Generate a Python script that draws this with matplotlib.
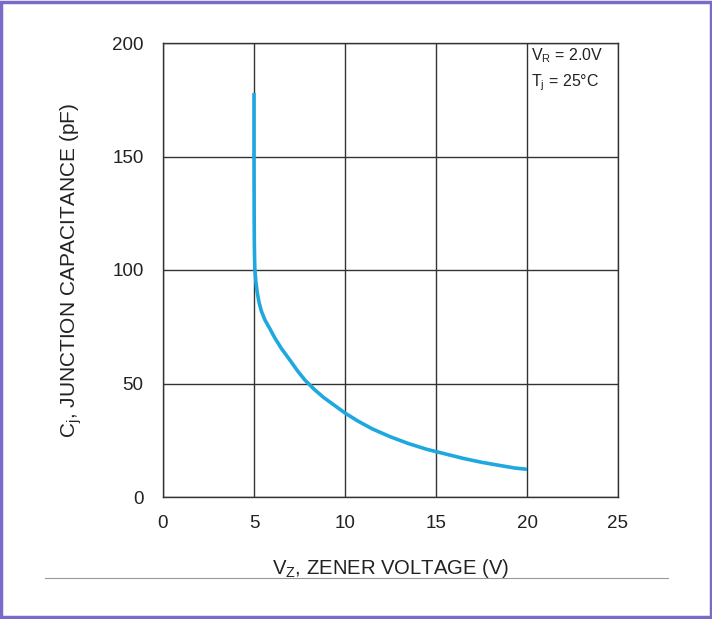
import matplotlib.pyplot as plt
from matplotlib.lines import Line2D
from matplotlib.patches import Rectangle

plt.rcParams['font.family'] = ['Liberation Sans', 'DejaVu Sans']

# zener voltage (V) vs junction capacitance (pF)
vz = [5.0, 5.0, 5.005, 5.01, 5.02, 5.035, 5.05, 5.1, 5.17, 5.27, 5.4, 5.6, 5.88, 6.15, 6.5, 7.0, 7.4, 7.8,
      8.3, 8.8, 9.4, 10.0, 10.7, 11.5, 12.5, 13.5, 14.5, 15.5, 16.5, 17.5, 18.5, 19.3, 20.0]
cj = [178, 150, 135, 122, 111, 104, 100, 95, 90.5, 86, 82, 78, 74, 70, 65.5, 60, 55.5, 51.5,
      47.5, 44, 40.5, 37, 33.5, 30, 26.5, 23.5, 21, 19, 17, 15.3, 13.9, 12.8, 12.2]

xticks = [0, 5, 10, 15, 20, 25]
yticks = [0, 50, 100, 150, 200]

fig = plt.figure(figsize=(7.12, 6.19), dpi=100)
ax = fig.add_axes([163 / 712, 1 - 497 / 619, 455 / 712, 454 / 619])

ax.plot(vz, cj, color="#1fa8e0", linewidth=2.6, solid_capstyle="butt", solid_joinstyle="round")

ax.set_xlim(0, 25)
ax.set_ylim(0, 200)
ax.set_xticks(xticks)
ax.set_yticks(yticks)
ax.grid(True, color="#333333", linewidth=1.0)
ax.set_axisbelow(True)
ax.tick_params(length=0, labelsize=13.5, colors="#222222")
ax.tick_params(axis="x", pad=13)
ax.tick_params(axis="y", pad=14)
for s in ax.spines.values():
    s.set_color("#333333")
    s.set_linewidth(1.0)

ax.set_xlabel("V$_\\mathregular{Z}$, ZENER VOLTAGE (V)", fontsize=14.6, color="#222222", labelpad=18)
ax.set_ylabel("C$_\\mathregular{j}$, JUNCTION CAPACITANCE (pF)", fontsize=15, color="#222222", labelpad=20)

ax.text(20.2, 194.5, "V$_\\mathregular{R}$ = 2.0V", fontsize=11.5, va="center", color="#222222")
ax.text(20.2, 182.5, "T$_\\mathregular{j}$ = 25°C", fontsize=11.5, va="center", color="#222222")

# scan artifacts: grey rule under the chart and purple frame
fig.add_artist(Line2D([45 / 712, 668 / 712], [1 - 578 / 619] * 2, color="#999999", linewidth=0.8))
fig.add_artist(Rectangle((0.002, 0.003), 0.996, 0.994, transform=fig.transFigure,
                         fill=False, edgecolor="#7b6bc8", linewidth=2.5))

plt.savefig("out.png", dpi=100)
